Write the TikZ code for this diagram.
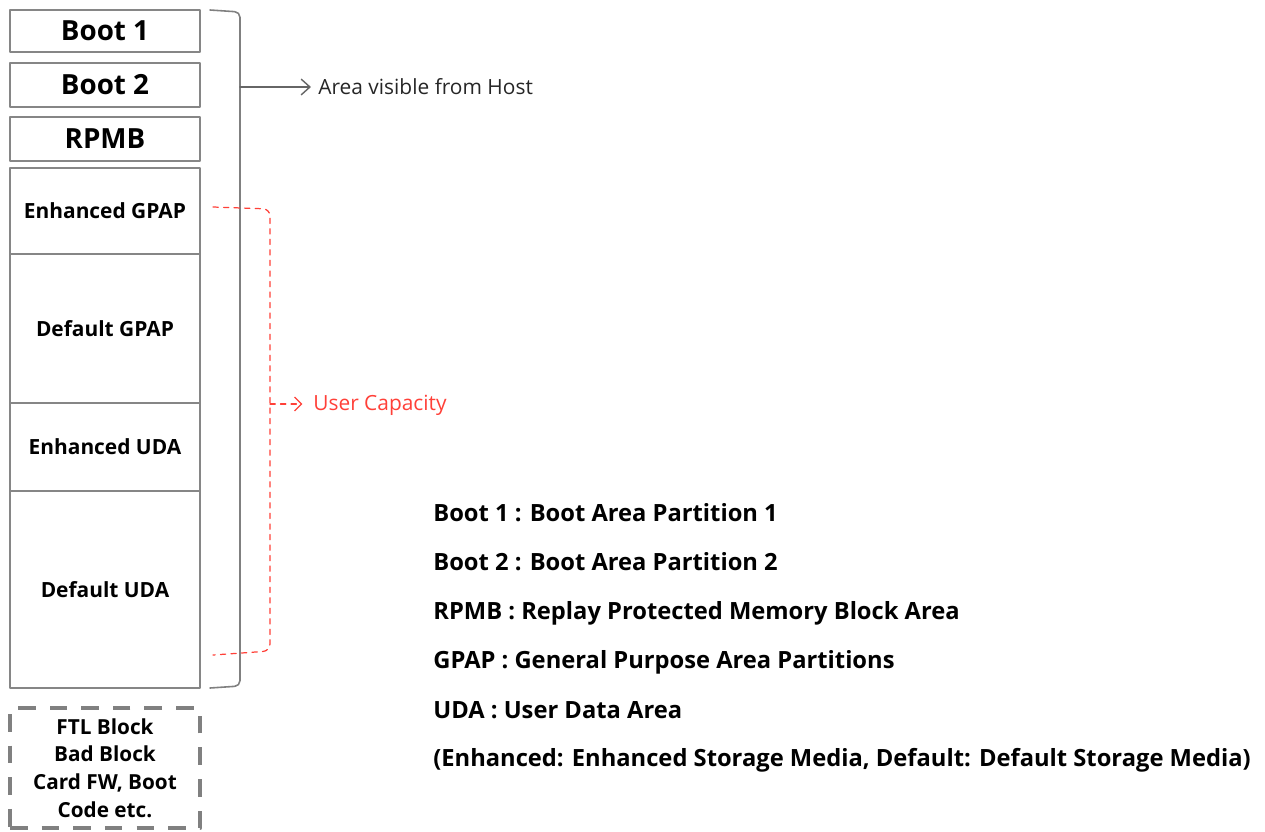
\documentclass[tikz,border=0pt]{standalone}
\usepackage{fontspec}
\setmainfont{Open Sans}
\usetikzlibrary{arrows.meta}

\tikzset{
  part/.style={draw=gray!95,line width=1.2pt,fill=white,minimum width=3.8cm,inner sep=0pt,font=\bfseries\fontsize{11.9}{14}\selectfont},
  bigpart/.style={part,font=\bfseries\fontsize{15.8}{18}\selectfont},
  legend/.style={anchor=west,inner sep=0pt,text height=1.5ex,text depth=0.35ex,font=\bfseries\fontsize{13.5}{16}\selectfont},
  note/.style={anchor=west,inner sep=0pt,text height=1.5ex,text depth=0.35ex,font=\fontsize{11.9}{14}\selectfont},
  capred/.style={color={rgb,255:red,255;green,64;blue,56}}
}

\begin{document}
\begin{tikzpicture}[line cap=round,line join=round,x=0.02cm,y=-0.02cm]
      \useasboundingbox (0,0) rectangle (1265,832);
      % partitions
      \node [bigpart,minimum height=0.84cm] (boot1) at (105,31) {Boot 1};
      \node [bigpart,minimum height=0.88cm] (boot2) at (105,85) {Boot 2};
      \node [bigpart,minimum height=0.88cm] (rpmb) at (105,139) {RPMB};
      \node [part,minimum height=1.72cm] (egpap) at (105,211) {Enhanced GPAP};
      \node [part,minimum height=2.98cm] (dgpap) at (105,328.5) {Default GPAP};
      \node [part,minimum height=1.76cm] (euda) at (105,447) {Enhanced UDA};
      \node [part,minimum height=3.94cm] (duda) at (105,589.5) {Default UDA};
      \node [part,draw=gray,line width=2.6pt,dash pattern=on 10pt off 8pt,line cap=butt,minimum height=2.4cm,align=center,font=\bfseries\fontsize{11.8}{15.7}\selectfont] (misc) at (105,768) {FTL Block\\Bad Block\\Card FW, Boot\\Code etc.};
      % host bracket
      \coordinate (hosttop) at (210,10);
      \coordinate (hostbot) at (210,688);
      \coordinate (hostmid) at (240,87);
      \node [note,text=black!85] (host) at (318,89) {Area visible from Host};
      \draw [gray,line width=0.9pt,rounded corners=3pt] (hosttop) -- (240,12) -- (240,686) -- (hostbot);
      \draw [gray!80!black,line width=0.8pt,-{Straight Barb[length=5pt,width=9pt]}] (hostmid) -- ([xshift=-4pt]host.west |- hostmid);
      % user capacity bracket
      \coordinate (captop) at (213,207);
      \coordinate (capbot) at (213,655);
      \coordinate (capmid) at (270,404);
      \node [note,capred] (cap) at (313,405) {User Capacity};
      \draw [capred,line width=0.7pt,dashed,rounded corners=4pt] (captop) -- (270,209) -- (270,651) -- (capbot);
      \draw [capred,line width=0.7pt,dashed,-{Straight Barb[length=4pt,width=8pt]}] (capmid) -- ([xshift=-6pt]cap.west |- capmid);
      % legend
      \node [legend] (l1) at (433,516) {Boot 1 : Boot Area Partition 1};
      \node [legend] (l2) at (433,565) {Boot 2 : Boot Area Partition 2};
      \node [legend] (l3) at (433,614) {RPMB : Replay Protected Memory Block Area};
      \node [legend] (l4) at (433,663) {GPAP : General Purpose Area Partitions};
      \node [legend] (l5) at (433,713) {UDA : User Data Area};
      \node [legend] (l6) at (433,761) {(Enhanced: Enhanced Storage Media, Default: Default Storage Media)};
    \end{tikzpicture}
\end{document}
